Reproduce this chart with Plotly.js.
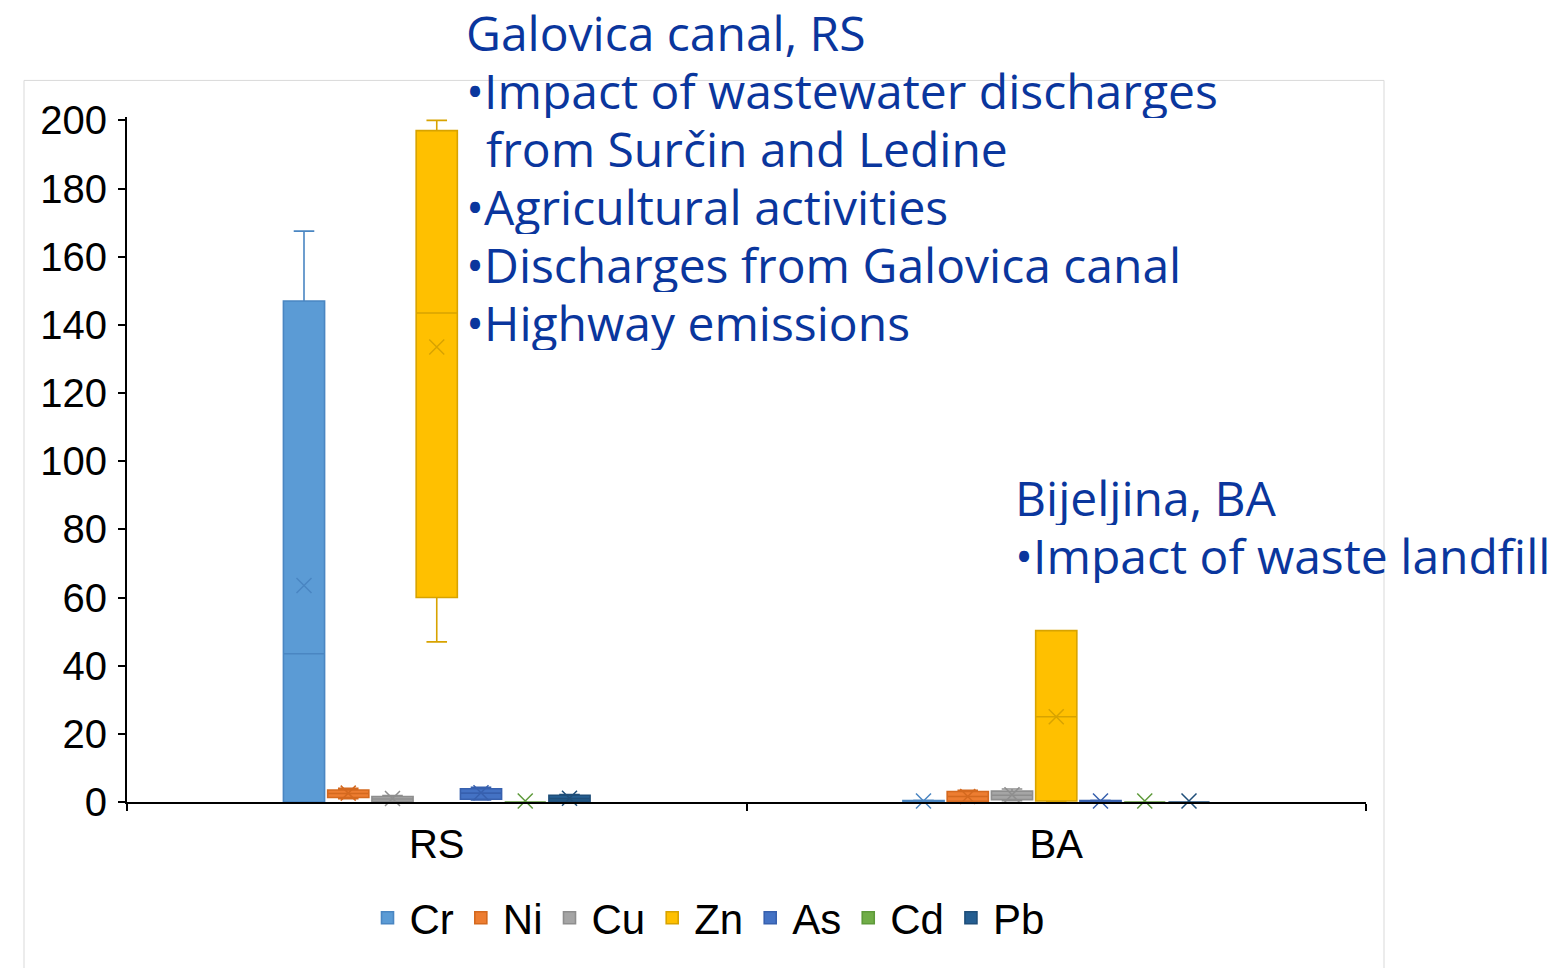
<!DOCTYPE html>
<html><head><meta charset="utf-8">
<script src="https://cdn.plot.ly/plotly-3.0.1.min.js"></script>
<style>html,body{margin:0;padding:0;background:#fff}#chart{width:1560px;height:968px}</style>
</head><body><div id="chart"></div>
<script>
// Categories (sites) and series (metals)
const sites = ['RS', 'BA'];
const metals = ['Cr', 'Ni', 'Cu', 'Zn', 'As', 'Cd', 'Pb'];

// Box statistics per metal, values for [RS, BA]
const lowerFence = {Cr:[0,0],      Ni:[1.0,0],   Cu:[0,0.4],   Zn:[47,0],     As:[0.6,0.1], Cd:[0,0], Pb:[0.1,0]};
const q1         = {Cr:[0,0.1],    Ni:[1.3,0.2], Cu:[0.1,0.7], Zn:[60,0.3],   As:[0.8,0.2], Cd:[0,0], Pb:[0.2,0]};
const median     = {Cr:[43.5,0.2], Ni:[2.5,1.6], Cu:[0.9,2.0], Zn:[143.5,25], As:[2.6,0.3], Cd:[0,0], Pb:[1.0,0]};
const q3         = {Cr:[147,0.4],  Ni:[3.5,3.1], Cu:[1.6,3.2], Zn:[197,50.3], As:[3.9,0.4], Cd:[0,0], Pb:[2.0,0]};
const upperFence = {Cr:[167.5,0.5],Ni:[4.0,3.4], Cu:[1.9,3.8], Zn:[200,50.3], As:[4.3,0.5], Cd:[0,0], Pb:[2.2,0]};
const means      = {Cr:[63.5,0.3], Ni:[2.6,1.6], Cu:[1.0,2.1], Zn:[133.5,25], As:[2.7,0.3], Cd:[0.3,0.3], Pb:[1.1,0.3]};

const yTicks = [0, 20, 40, 60, 80, 100, 120, 140, 160, 180, 200];

// Annotation texts
const noteRS = ['Galovica canal, RS', '•Impact of wastewater discharges', 'from Surčin and Ledine',
                '•Agricultural activities', '•Discharges from Galovica canal', '•Highway emissions'];
const noteBA = ['Bijeljina, BA', '•Impact of waste landfill'];

// Styles
const fillColors = {Cr:'#5B9BD5', Ni:'#ED7D31', Cu:'#A5A5A5', Zn:'#FFC000', As:'#4472C4', Cd:'#70AD47', Pb:'#255E91'};
const lineColors = {Cr:'#4A86C2', Ni:'#D4691F', Cu:'#8E8E8E', Zn:'#D8A300', As:'#3760AE', Cd:'#5E9A3A', Pb:'#1F4E79'};

const traces = [];
metals.forEach(m => {
  traces.push({
    type: 'box', name: m, x: sites,
    q1: q1[m], median: median[m], q3: q3[m],
    lowerfence: lowerFence[m], upperfence: upperFence[m],
    boxpoints: false, whiskerwidth: 0.5,
    fillcolor: fillColors[m], line: {color: lineColors[m], width: 1.6},
    offsetgroup: m, hoverinfo: 'skip'
  });
});
metals.forEach(m => {
  traces.push({
    type: 'scatter', mode: 'markers', name: m + ' mean', x: sites, y: means[m],
    showlegend: false, offsetgroup: m, hoverinfo: 'skip', cliponaxis: false,
    marker: {symbol: 'x-thin', size: 15, line: {color: lineColors[m], width: 1.5}}
  });
});

const fontAxis = {family: 'Arial, "Liberation Sans", sans-serif', size: 40, color: '#000'};
const fontLegend = {family: 'Arial, "Liberation Sans", sans-serif', size: 42, color: '#000'};
const fontNote = {family: '"Open Sans", "Noto Sans", sans-serif', size: 48, color: '#0A369D'};

// layout helpers (plot area: left 127px, bottom 802px, 1239 x 685.4 px)
const PLOT_L = 127, PLOT_B = 802, PLOT_W = 1239, PLOT_H = 685.4, LINE_PITCH = 58;
const px2x = px => (px - PLOT_L) / PLOT_W;
const px2y = py => (PLOT_B - py) / PLOT_H;

const annotations = [];
noteRS.forEach((t, i) => {
  annotations.push({xref: 'paper', yref: 'paper', x: px2x(i === 2 ? 485 : 465), y: px2y(31.5 + i * LINE_PITCH),
    xanchor: 'left', yanchor: 'middle', valign: 'middle', height: 56, align: 'left',
    showarrow: false, borderpad: 0, font: fontNote, text: t});
});
noteBA.forEach((t, i) => {
  annotations.push({xref: 'paper', yref: 'paper', x: px2x(1014), y: px2y(497 + i * LINE_PITCH),
    xanchor: 'left', yanchor: 'middle', valign: 'middle', height: 56, align: 'left',
    showarrow: false, borderpad: 0, font: fontNote, text: t});
});

const layout = {
  width: 1560, height: 968,
  margin: {l: 127, r: 194, t: 117, b: 166, pad: 0},
  paper_bgcolor: '#fff', plot_bgcolor: '#fff',
  boxmode: 'group', boxgap: 0.5, boxgroupgap: 0.07,
  scattermode: 'group', scattergap: 0.5,
  showlegend: true,
  legend: {orientation: 'h', x: px2x(707.5), xanchor: 'center', y: px2y(918), yanchor: 'middle',
           font: fontLegend, itemwidth: 34, bgcolor: 'rgba(0,0,0,0)', traceorder: 'normal'},
  xaxis: {type: 'category', range: [-0.5, 1.5], tickson: 'boundaries',
          ticks: 'outside', ticklen: 7, tickwidth: 2, tickcolor: '#000',
          showline: true, linecolor: '#000', linewidth: 2, showgrid: false, zeroline: false,
          tickfont: fontAxis, ticklabelstandoff: 6, fixedrange: true},
  yaxis: {range: [0, 201], tickvals: yTicks, ticktext: yTicks.map(String),
          ticks: 'outside', ticklen: 7, tickwidth: 2, tickcolor: '#000',
          showline: true, linecolor: '#000', linewidth: 2, showgrid: false, zeroline: false,
          tickfont: fontAxis, ticklabelstandoff: 3, fixedrange: true},
  shapes: [{type: 'rect', xref: 'paper', yref: 'paper', x0: px2x(24), x1: px2x(1384), y0: px2y(1000), y1: px2y(80),
            line: {color: '#D9D9D9', width: 1}, fillcolor: 'rgba(0,0,0,0)', layer: 'below'}],
  annotations: annotations
};

Plotly.newPlot('chart', traces, layout, {displayModeBar: false, staticPlot: true});
</script>
</body></html>
